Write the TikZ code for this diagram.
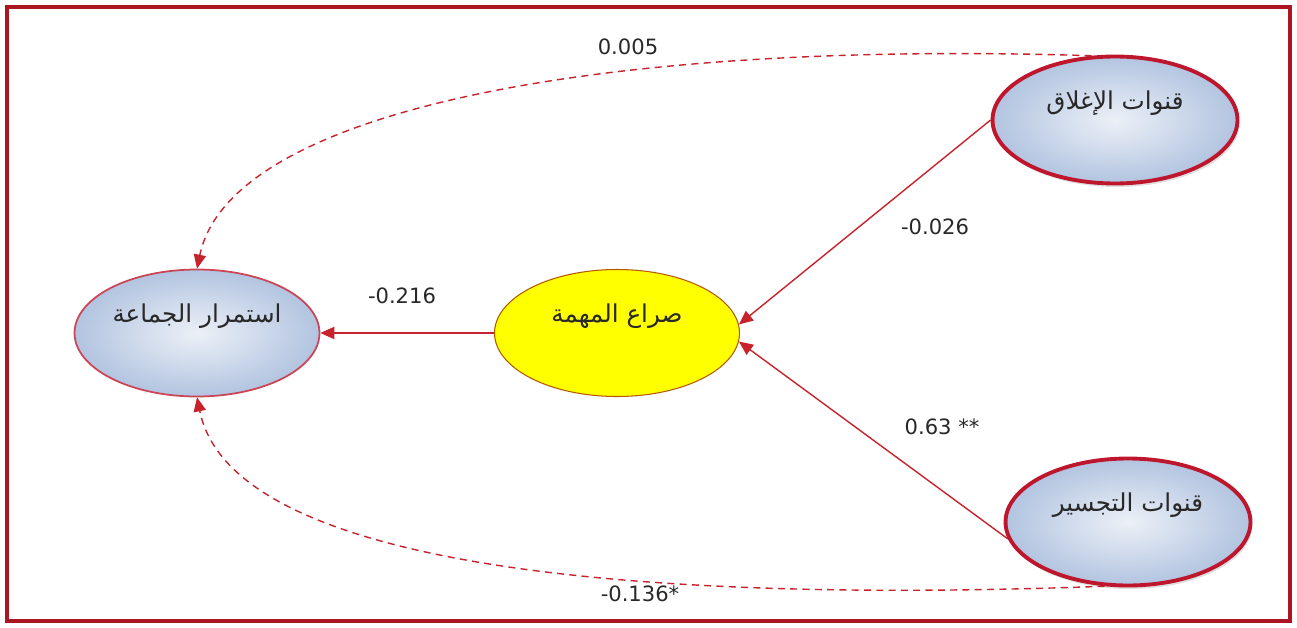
\documentclass[tikz,border=0pt]{standalone}
\usepackage{fontspec}
\setmainfont{DejaVu Sans}
\newfontfamily\arabicfont[Script=Arabic]{DejaVu Sans}
\TeXXeTstate=1
\usepackage{xcolor}
\usepackage{tikz}
\usetikzlibrary{arrows.meta,shapes.geometric,shadows}
\definecolor{framered}{RGB}{172,22,34}
\definecolor{rimred}{RGB}{190,22,44}
\definecolor{pathred}{RGB}{200,34,44}
\definecolor{txtgray}{RGB}{40,40,40}
\definecolor{shadeout}{RGB}{178,196,224}
\definecolor{shadein}{RGB}{236,240,247}
\newcommand{\artext}[1]{{\arabicfont\beginR #1\endR}}
\tikzset{
	latent/.style={ellipse, minimum width=4.9cm, minimum height=2.54cm,
		inner color=shadein, outer color=shadeout,
		text=txtgray, font=\fontsize{14}{16}\selectfont,
		text height=10pt, text depth=22pt, inner sep=0pt},
	coef/.style={font=\fontsize{12}{14}\selectfont, text=txtgray, inner sep=1pt},
	path/.style={-{Triangle[length=8pt,width=7pt]}, pathred, line width=0.8pt},
	dashedpath/.style={path, dashed, dash pattern=on 4pt off 3pt}
}

\begin{document}
\begin{tikzpicture}[x=0.02cm, y=-0.02cm,
	outer/.style={latent, draw=rimred, line width=2.2pt,
		drop shadow={opacity=0.25, shadow xshift=1pt, shadow yshift=-2pt}},
	]
	\useasboundingbox (0,0) rectangle (1297,628);
	
	%% -- Frame
	\draw[framered, line width=2pt] (7,7) rectangle (1290,621);
	
	%% -- Constructs
	\node[latent, draw=rimred!80, line width=1pt] (cont) at (197,333)
	{\artext{استمرار الجماعة}};
	
	\node[latent, inner color=yellow, outer color=yellow,
	draw=orange!70!black, line width=0.6pt] (task) at (617,333)
	{\artext{صراع المهمة}};
	
	\node[outer] (clos) at (1115,120)
	{\artext{قنوات الإغلاق}};
	
	\node[outer] (brid) at (1128,522)
	{\artext{قنوات التجسير}};
	
	%% -- Direct paths
	\draw[path] (task.west) -- (cont.east);
	\draw[path] (clos.west) -- (task.4);
	\draw[path] (brid.188) -- (task.-4);
	
	%% -- Dashed paths to group continuity
	\draw[dashedpath] (clos.110) .. controls (600,40) and (230,110) .. (cont.north);
	\draw[dashedpath] (brid.250) .. controls (600,605) and (230,560) .. (cont.south);
	
	%% -- Coefficients
	\node[coef] (c1) at (628,47) {0.005};
	\node[coef] (c2) at (402,296) {-0.216};
	\node[coef] (c3) at (935,227) {-0.026};
	\node[coef] (c4) at (942,427) {0.63 **};
	\node[coef] (c5) at (640,594) {-0.136*};
	
\end{tikzpicture}
\end{document}
